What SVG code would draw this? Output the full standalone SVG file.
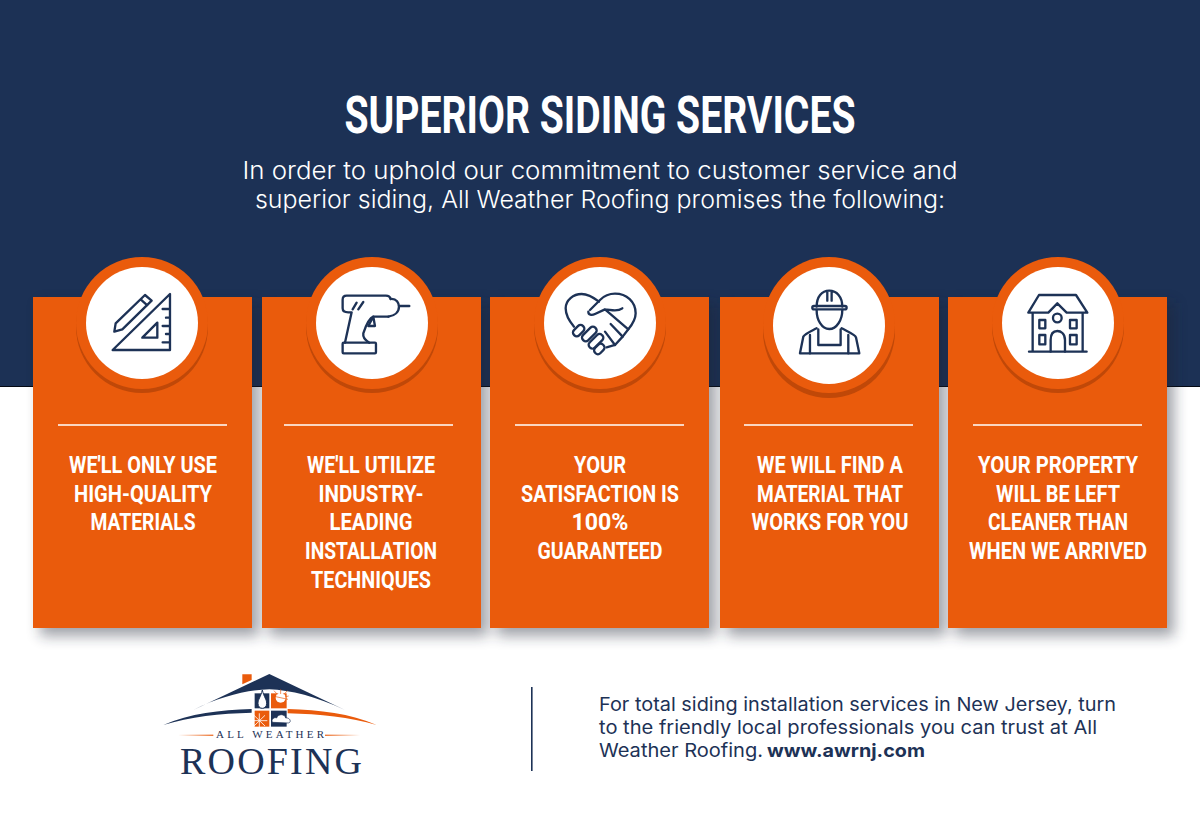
<svg xmlns="http://www.w3.org/2000/svg" width="1200" height="836" viewBox="0 0 1200 836">
<style>
.t{font-family:"Roboto","Liberation Sans",sans-serif;font-weight:700;fill:#fff}
.c{font-size:23px}
.h{font-family:"Inter","Open Sans",sans-serif;font-weight:300;font-size:24px;fill:#fff}
.f{font-family:"Inter","Open Sans",sans-serif;font-weight:400;font-size:18.5px;fill:#1d3256}
.card{fill:#ea5b0c}
.rule{stroke:#fff;stroke-width:1.6}
.dk{fill:#c04808}
.or{fill:#ea5b0c}
.wh{fill:#fff}
.ic{fill:none;stroke:#1d3256;stroke-width:7;stroke-linecap:round;stroke-linejoin:round}
</style>
<defs>
<filter id="b" x="-20%" y="-20%" width="140%" height="140%"><feGaussianBlur stdDeviation="7"/></filter>
<linearGradient id="gl"><stop offset="0" stop-color="#ea5b0c" stop-opacity="0"/><stop offset="1" stop-color="#ea5b0c"/></linearGradient>
<linearGradient id="gr"><stop offset="0" stop-color="#ea5b0c"/><stop offset="1" stop-color="#ea5b0c" stop-opacity="0"/></linearGradient>
</defs>
<rect width="1200" height="836" fill="#fff"/>
<rect width="1200" height="386" fill="#1c3155"/>
<rect y="386" width="1200" height="1" fill="#050a14"/>
<g id="header">
<text class="t" x="600" y="133" font-size="51" text-anchor="middle" textLength="511" lengthAdjust="spacingAndGlyphs">SUPERIOR SIDING SERVICES</text>
<text class="h" x="600" y="179" text-anchor="middle" textLength="715" lengthAdjust="spacingAndGlyphs">In order to uphold our commitment to customer service and</text>
<text class="h" x="600" y="208" text-anchor="middle" textLength="690" lengthAdjust="spacingAndGlyphs">superior siding, All Weather Roofing promises the following:</text>
</g>
<g id="shadows" filter="url(#b)" fill="#1a2430" opacity=".42">
<rect x="40" y="303" width="219" height="333"/><rect x="269" y="303" width="219" height="333"/><rect x="497" y="303" width="219" height="333"/><rect x="727" y="303" width="219" height="333"/><rect x="955" y="303" width="219" height="333"/>
</g>
<g id="card-1">
<rect class="card" x="33" y="297" width="219" height="331"/>
<circle class="dk" cx="142" cy="327" r="66"/><circle class="or" cx="142" cy="323" r="66"/><circle class="wh" cx="142" cy="323" r="56"/>
<g class="ic" transform="translate(20 250) scale(.3333)">
<path d="M278,300 L450,132 L450,300 Z M367,263 L412,218 L412,263 Z M428,177H450M438,203H450M428,228H450M438,252H450M428,277H450"/>
<path d="M283,245 L287,220 L375,135 L395,152 L307,238 Z M362,148 L382,166"/>
</g>
<line class="rule" x1="58" y1="425" x2="227" y2="425"/>
<text class="t c" x="143" y="473" text-anchor="middle" textLength="148" lengthAdjust="spacingAndGlyphs">WE'LL ONLY USE</text>
<text class="t c" x="143" y="502" text-anchor="middle" textLength="138" lengthAdjust="spacingAndGlyphs">HIGH-QUALITY</text>
<text class="t c" x="143" y="530" text-anchor="middle" textLength="105" lengthAdjust="spacingAndGlyphs">MATERIALS</text>
</g>
<g id="card-2">
<rect class="card" x="262" y="297" width="219" height="331"/>
<circle class="dk" cx="372" cy="327" r="66"/><circle class="or" cx="372" cy="323" r="66"/><circle class="wh" cx="372" cy="323" r="56"/>
<g class="ic" transform="translate(20 250) scale(.3333)">
<path d="M1112,147 C1110,140 1105,137 1098,137 L980,137 C972,137 968,141 968,149 L968,175 C968,183 972,187 985,187 L995,187 L975,278"/>
<path d="M1105,200 L1060,200 C1045,205 1035,235 1030,250 C1028,262 1035,270 1048,278"/>
<path d="M1060,200 L1045,228 L1065,228 Z"/>
<path d="M1112,147 C1130,145 1137,160 1137,170 C1137,185 1125,197 1105,200 M1137,168 L1168,168"/>
<rect x="968" y="278" width="100" height="32" rx="3"/>
<path d="M998,178 L1010,158 M1015,178 L1030,156"/>
</g>
<line class="rule" x1="284" y1="425" x2="453" y2="425"/>
<text class="t c" x="371" y="473" text-anchor="middle" textLength="128" lengthAdjust="spacingAndGlyphs">WE'LL UTILIZE</text>
<text class="t c" x="371" y="502" text-anchor="middle" textLength="105" lengthAdjust="spacingAndGlyphs">INDUSTRY-</text>
<text class="t c" x="371" y="530" text-anchor="middle" textLength="83" lengthAdjust="spacingAndGlyphs">LEADING</text>
<text class="t c" x="371" y="559" text-anchor="middle" textLength="132" lengthAdjust="spacingAndGlyphs">INSTALLATION</text>
<text class="t c" x="371" y="588" text-anchor="middle" textLength="120" lengthAdjust="spacingAndGlyphs">TECHNIQUES</text>
</g>
<g id="card-3">
<rect class="card" x="490" y="297" width="219" height="331"/>
<circle class="dk" cx="600" cy="327" r="66"/><circle class="or" cx="600" cy="323" r="66"/><circle class="wh" cx="600" cy="323" r="56"/>
<g class="ic" transform="translate(500 250) scale(.3333)">
<path d="M222,230 C203,208 197,190 197,175 C197,150 220,132 245,132 C265,132 280,142 297,155"/>
<path d="M270,180 L300,150 C315,135 330,131 345,131 C380,131 407,155 407,190 C407,205 400,220 385,238 L368,260 L345,285 L320,292"/>
<path d="M265,185 C265,195 275,197 285,192 L315,178 C330,178 350,188 367,175 M315,178 L385,238 M332,222 L368,260 M315,245 L345,285"/>
<rect x="217" y="231" width="38" height="22" rx="10" transform="rotate(-45 236 242)"/>
<rect x="242" y="241" width="52" height="22" rx="10" transform="rotate(-45 268 252)"/>
<rect x="262" y="263" width="52" height="22" rx="10" transform="rotate(-45 288 274)"/>
<rect x="281" y="286" width="34" height="22" rx="10" transform="rotate(-45 298 297)"/>
</g>
<line class="rule" x1="515" y1="425" x2="684" y2="425"/>
<text class="t c" x="600" y="473" text-anchor="middle" textLength="52" lengthAdjust="spacingAndGlyphs">YOUR</text>
<text class="t c" x="600" y="502" text-anchor="middle" textLength="158" lengthAdjust="spacingAndGlyphs">SATISFACTION IS</text>
<text class="t c" x="600" y="530" text-anchor="middle" textLength="57" lengthAdjust="spacingAndGlyphs">100%</text>
<text class="t c" x="600" y="559" text-anchor="middle" textLength="125" lengthAdjust="spacingAndGlyphs">GUARANTEED</text>
</g>
<g id="card-4">
<rect class="card" x="720" y="297" width="219" height="331"/>
<ellipse class="dk" cx="829" cy="331" rx="66" ry="67"/><ellipse class="or" cx="829" cy="325" rx="66" ry="68"/><ellipse class="wh" cx="829" cy="325.5" rx="56" ry="58.5"/>
<g class="ic" transform="translate(500 250) scale(.3333)">
<path d="M950,170 C950,140 965,122 988,122 C1010,122 1027,140 1027,170 M982,125 L982,152 M995,125 L995,152"/>
<rect x="937" y="168" width="103" height="10" rx="5"/>
<path d="M950,180 C950,210 965,237 988,237 C1010,237 1027,210 1027,180"/>
<path d="M950,235 C925,248 915,252 910,260 L900,310 L1078,310 L1068,262 C1066,255 1050,248 1025,235"/>
<path d="M930,255 L930,310 M1045,255 L1045,310 M955,238 L955,285 L1022,285 L1022,238"/>
</g>
<line class="rule" x1="744" y1="425" x2="913" y2="425"/>
<text class="t c" x="830" y="473" text-anchor="middle" textLength="146" lengthAdjust="spacingAndGlyphs">WE WILL FIND A</text>
<text class="t c" x="830" y="502" text-anchor="middle" textLength="146" lengthAdjust="spacingAndGlyphs">MATERIAL THAT</text>
<text class="t c" x="830" y="530" text-anchor="middle" textLength="157" lengthAdjust="spacingAndGlyphs">WORKS FOR YOU</text>
</g>
<g id="card-5">
<rect class="card" x="948" y="297" width="219" height="331"/>
<circle class="dk" cx="1058" cy="327" r="66"/><circle class="or" cx="1058" cy="323" r="66"/><circle class="wh" cx="1058" cy="323" r="56"/>
<g class="ic" transform="translate(900 250) scale(.3333)">
<path d="M385,188 L417,135 L528,135 L562,188 L500,188 L472,160 L445,188 Z"/>
<path d="M398,190 L398,305 M548,190 L548,305 M387,305 L560,305"/>
<circle cx="472" cy="204" r="13"/>
<rect x="418" y="210" width="18" height="25"/><rect x="510" y="210" width="20" height="25"/><rect x="418" y="255" width="18" height="28"/><rect x="510" y="255" width="20" height="28"/>
<path d="M452,305 L452,270 C452,250 462,243 472,243 C482,243 495,250 495,270 L495,305"/>
</g>
<line class="rule" x1="973" y1="425" x2="1142" y2="425"/>
<text class="t c" x="1058" y="473" text-anchor="middle" textLength="160" lengthAdjust="spacingAndGlyphs">YOUR PROPERTY</text>
<text class="t c" x="1058" y="502" text-anchor="middle" textLength="124" lengthAdjust="spacingAndGlyphs">WILL BE LEFT</text>
<text class="t c" x="1058" y="530" text-anchor="middle" textLength="140" lengthAdjust="spacingAndGlyphs">CLEANER THAN</text>
<text class="t c" x="1058" y="559" text-anchor="middle" textLength="178" lengthAdjust="spacingAndGlyphs">WHEN WE ARRIVED</text>
</g>
<g id="logo">
<g transform="translate(150 660) scale(.3333)">
<path d="M277,43H305V60L277,73Z" fill="#ea5b0c"/>
<path d="M130,150 L358,42 L585,150 C500,110 420,90 358,88 C290,90 210,110 130,150Z" fill="#1d3256"/>
<path d="M40,195 C120,160 210,150 305,147 V158 C210,160 120,170 40,195Z" fill="#1d3256"/>
<path d="M413,147 C510,150 600,160 680,195 C600,172 510,162 413,160Z" fill="#ea5b0c"/>
<path d="M314,100H358V145H314Z" fill="#1d3256"/>
<path d="M337,90 C332,112 324,118 324,130 C324,140 330,145 337,145 C344,145 350,140 350,130 C350,118 342,112 337,90Z" fill="#fff" stroke="#1d3256" stroke-width="3"/>
<path d="M363,100H410V145H363Z" fill="#ea5b0c"/>
<circle cx="392" cy="113" r="15" fill="#fff"/>
<path d="M368,108 L414,118 M392,88 L392,102 M372,92 L382,103 M412,92 L402,103 M416,108 L405,111" stroke="#ea5b0c" stroke-width="2"/>
<path d="M314,152H358V200H314Z" fill="#ea5b0c"/>
<path d="M328,160 V205 M305,182 H352 M312,166 L345,198 M345,166 L312,198" stroke="#fff" stroke-width="2.5"/>
<path d="M363,152H410V200H363Z" fill="#1d3256"/>
<path d="M368,187 C362,180 372,170 380,174 C385,160 405,162 407,174 C420,172 426,187 415,189 Z" fill="#fff" stroke="#1d3256" stroke-width="2"/>
<rect x="85" y="224" width="105" height="3.5" fill="url(#gl)"/>
<rect x="525" y="224" width="105" height="3.5" fill="url(#gr)"/>
</g>
<text x="270" y="738" font-family="Liberation Serif,serif" font-size="11" fill="#1d3256" text-anchor="middle" textLength="108" lengthAdjust="spacing">ALL WEATHER</text>
<text x="271" y="774" font-family="Liberation Serif,serif" font-size="38" fill="#1d3256" text-anchor="middle" textLength="182" lengthAdjust="spacing">ROOFING</text>
</g>
<rect id="divider" x="531" y="687" width="1.6" height="84" fill="#1d3256"/>
<g id="footer">
<text class="f" x="599" y="711" textLength="517" lengthAdjust="spacingAndGlyphs">For total siding installation services in New Jersey, turn</text>
<text class="f" x="599" y="734" textLength="498" lengthAdjust="spacingAndGlyphs">to the friendly local professionals you can trust at All</text>
<text class="f" x="599" y="757" textLength="164" lengthAdjust="spacingAndGlyphs">Weather Roofing.</text>
<text class="f" x="767" y="757" style="font-weight:700" textLength="158" lengthAdjust="spacingAndGlyphs">www.awrnj.com</text>
</g>
</svg>
